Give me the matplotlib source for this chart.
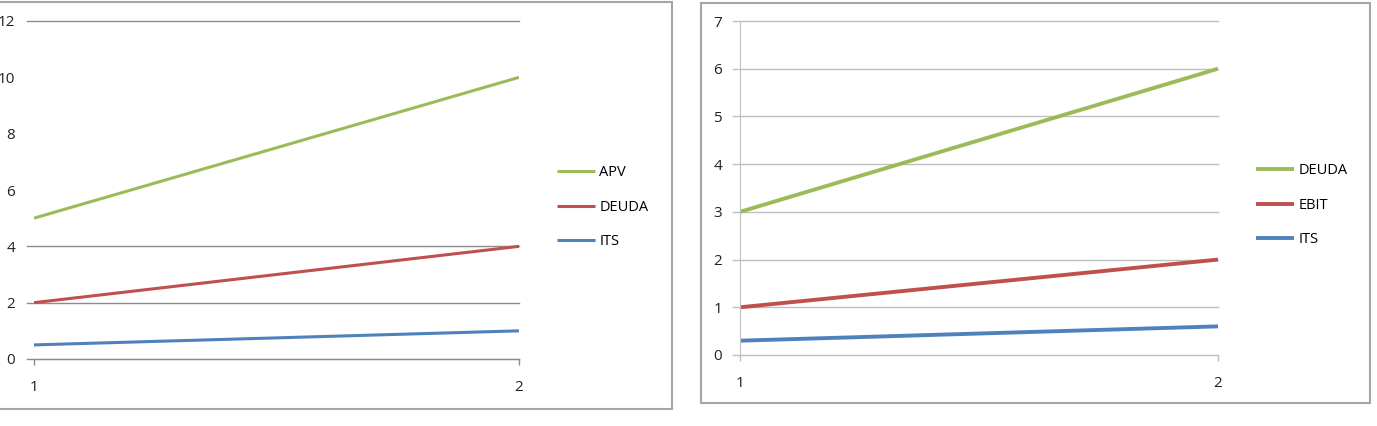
import matplotlib.pyplot as plt
from matplotlib.patches import Rectangle

# left chart data
x_vals = [1, 2]
apv = [5, 10]
deuda_l = [2, 4]
its_l = [0.5, 1]
left_yticks = [0, 2, 4, 6, 8, 10, 12]
left_grid = [0, 2, 4, 12]  # only these gridlines show in the reference

# right chart data
deuda_r = [3, 6]
ebit = [1, 2]
its_r = [0.3, 0.6]
right_yticks = [0, 1, 2, 3, 4, 5, 6, 7]

GREEN = '#9BBB59'
RED = '#C0504D'
BLUE = '#4F81BD'

W, H = 1377, 426
plt.rcParams['font.family'] = ['Open Sans', 'DejaVu Sans']

fig = plt.figure(figsize=(W / 100, H / 100), dpi=100)


def px_axes(x0, x1, ytop, ybot):
    return fig.add_axes([x0 / W, 1 - ybot / H, (x1 - x0) / W, (ybot - ytop) / H])


def style(ax, yticks, ymax, grid_vals, grid_color, show_yaxis, width_px, ypad):
    ax.set_xlim(1, 2)
    ax.set_ylim(0, ymax)
    ax.set_yticks(yticks)
    ax.set_xticks(x_vals)
    for s in ['top', 'right']:
        ax.spines[s].set_visible(False)
    ax.spines['bottom'].set_color(grid_color)
    ax.spines['left'].set_color('#BFBFBF')
    ax.spines['left'].set_visible(show_yaxis)
    # gridlines run out past the axis, like Excel's outside tick marks
    for g in grid_vals:
        ax.axhline(g, xmin=-7 / width_px, xmax=1, color=grid_color, lw=1.0,
                   zorder=0, clip_on=False)
    ax.tick_params(axis='y', length=0, pad=ypad, labelsize=11, labelcolor='#222222')
    ax.tick_params(axis='x', length=4, width=1, color=grid_color, pad=11,
                   labelsize=11, labelcolor='#222222')


def legend(ax, x, ytop):
    ax.legend(loc='upper left', bbox_to_anchor=(x / W, 1 - ytop / H),
              bbox_transform=fig.transFigure, frameon=False, fontsize=10.5,
              handlelength=2.6, handletextpad=0.3, labelspacing=1.35,
              borderpad=0, borderaxespad=0)


# left panel
axl = px_axes(34, 519, 21, 359)
axl.plot(x_vals, apv, color=GREEN, lw=2.2, label='APV', solid_capstyle='butt')
axl.plot(x_vals, deuda_l, color=RED, lw=2.2, label='DEUDA', solid_capstyle='butt')
axl.plot(x_vals, its_l, color=BLUE, lw=2.2, label='ITS', solid_capstyle='butt')
style(axl, left_yticks, 12, left_grid, '#8C8C8C', False, 485, 13.5)
legend(axl, 557, 165)

# right panel
axr = px_axes(740, 1218, 21, 355)
axr.plot(x_vals, deuda_r, color=GREEN, lw=2.8, label='DEUDA', solid_capstyle='butt')
axr.plot(x_vals, ebit, color=RED, lw=2.8, label='EBIT', solid_capstyle='butt')
axr.plot(x_vals, its_r, color=BLUE, lw=2.8, label='ITS', solid_capstyle='butt')
style(axr, right_yticks, 7, right_yticks, '#BFBFBF', True, 478, 13)
legend(axr, 1256, 163)

# chart borders
fig.add_artist(Rectangle((-5 / W, 1 - 409 / H), 677 / W, 407 / H,
                         transform=fig.transFigure, fill=False,
                         edgecolor='#A6A6A6', lw=1.5))
fig.add_artist(Rectangle((701 / W, 1 - 403 / H), 669 / W, 400 / H,
                         transform=fig.transFigure, fill=False,
                         edgecolor='#A6A6A6', lw=1.5))

fig.savefig('out.png', dpi=100)
